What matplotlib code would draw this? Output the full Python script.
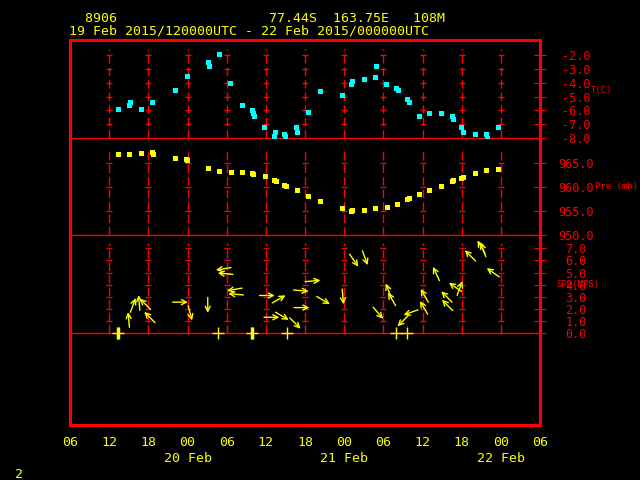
import numpy as np
import matplotlib.pyplot as plt
from matplotlib.transforms import ScaledTranslation

# ---------- data (hours since 19 Feb 00 UTC) ----------
t_hours = [13.4, 15.0, 15.2, 16.8, 18.6, 22.1, 23.9, 27.1, 27.3, 28.8, 30.5, 32.3,
           33.9, 34.0, 34.2, 35.7, 37.3, 37.4, 38.8, 39.0, 40.6, 40.8, 42.4, 44.3,
           47.6, 49.0, 49.2, 51.0, 52.7, 52.9, 54.4, 56.0, 56.2, 57.7, 57.9, 59.5,
           61.0, 62.8, 64.5, 64.7, 65.9, 66.25, 68.0, 69.7, 69.9, 71.6]
t_vals = [-5.9, -5.6, -5.4, -5.9, -5.4, -4.5, -3.5, -2.5, -2.8, -1.9, -4.0, -5.6,
          -6.0, -6.2, -6.4, -7.2, -7.85, -7.6, -7.7, -7.85, -7.2, -7.6, -6.1, -4.6,
          -4.9, -4.1, -3.85, -3.7, -3.55, -2.8, -4.1, -4.35, -4.5, -5.15, -5.4, -6.4,
          -6.2, -6.2, -6.4, -6.6, -7.2, -7.6, -7.7, -7.7, -7.98, -7.2]

p_hours = [13.4, 15.1, 16.8, 18.6, 18.7, 22.1, 23.8, 23.9, 27.2, 28.8, 30.6, 32.3,
           33.9, 34.1, 35.8, 37.3, 37.5, 38.8, 39.1, 40.7, 42.4, 44.3, 47.6, 49.0,
           49.2, 51.0, 52.8, 54.5, 56.1, 57.7, 57.9, 59.5, 61.0, 62.8, 64.5, 64.7,
           65.9, 66.25, 68.0, 69.8, 71.6]
p_vals = [966.9, 966.9, 967.1, 967.2, 966.9, 966.0, 965.9, 965.6, 964.0, 963.3, 963.1, 963.1,
          962.9, 962.7, 962.3, 961.5, 961.25, 960.4, 960.2, 959.4, 958.1, 957.1, 955.6, 955.1,
          955.2, 955.2, 955.6, 955.8, 956.5, 957.5, 957.8, 958.5, 959.4, 960.2, 961.25, 961.5,
          961.9, 962.1, 962.9, 963.5, 963.75]

# wind: speed (m/s) and direction the wind blows from (deg)
w_hours = [15.0, 15.65, 16.6, 17.5, 18.2, 22.9, 24.4, 27.1, 29.5, 29.8, 31.2, 31.4,
           36.2, 38.0, 36.9, 38.5, 40.5, 41.4, 41.5, 43.2, 44.8, 47.8, 49.5, 51.2,
           53.2, 54.8, 55.3, 57.0, 58.2, 60.3, 60.2, 62.1, 63.7, 63.8, 65.0, 65.7,
           67.3, 69.0, 69.3, 70.8]
w_spd = [1.1, 2.3, 2.5, 2.4, 1.3, 2.55, 1.65, 2.3, 5.3, 4.9, 3.6, 3.2,
         3.1, 2.8, 1.3, 1.4, 0.8, 3.5, 2.1, 4.3, 2.7, 3.0, 6.0, 6.2,
         1.65, 3.5, 2.8, 1.0, 1.7, 3.1, 2.1, 4.9, 3.0, 2.3, 3.8, 3.7,
         6.4, 7.1, 6.9, 5.0]
w_dir = [175, 200, 175, 135, 135, 270, 345, 0, 80, 95, 80, 95,
         270, 240, 270, 300, 315, 275, 270, 265, 300, 355, 325, 340,
         320, 160, 150, 45, 70, 150, 150, 155, 135, 135, 125, 200,
         135, 150, 160, 125]

calm_hours = [13.35, 28.7, 33.9, 39.2, 55.9, 57.6]
calm_heavy = [13.35, 33.9]

x_ticks = list(range(6, 79, 6))
x_labels = ['06', '12', '18', '00', '06', '12', '18', '00', '06', '12', '18', '00', '06']
day_hours = [24, 48, 72]
day_labels = ['20 Feb', '21 Feb', '22 Feb']
grid_hours = list(range(12, 73, 6))

t_ticks = [-2.0, -3.0, -4.0, -5.0, -6.0, -7.0, -8.0]
p_ticks = [965.0, 960.0, 955.0, 950.0]
s_ticks = [7.0, 6.0, 5.0, 4.0, 3.0, 2.0, 1.0, 0.0]

RED = '#ff0000'
YEL = '#ffff00'
CYAN = '#00ffff'
MONO = 'DejaVu Sans Mono'
FS = 9.5     # header / time axis
FS_R = 8.5   # right-hand tick labels
FS_N = 6.5   # parameter names
W, H = 640, 480


def box(x0, y0, x1, y1):
    "pixel box (top-left origin) -> figure fraction rect"
    return [x0 / W, 1 - y1 / H, (x1 - x0) / W, (y1 - y0) / H]


fig = plt.figure(figsize=(6.4, 4.8), dpi=100, facecolor='black')

# outer frame + time axis
frame = fig.add_axes(box(70, 40, 540, 425))
frame.set_facecolor('black')
frame.set_xlim(6, 78)
frame.set_ylim(0, 1)
for s in frame.spines.values():
    s.set_color(RED)
    s.set_linewidth(2.2)
frame.set_yticks([])
frame.set_xticks(x_ticks, x_labels)
frame.tick_params(axis='x', length=0, pad=8, colors=YEL, labelsize=FS)
for lab in frame.get_xticklabels():
    lab.set_family(MONO)
for h, lab in zip(day_hours, day_labels):
    frame.text(h, -0.086, lab, transform=frame.get_xaxis_transform(), color=YEL,
               fontsize=FS, family=MONO, ha='center', va='center')


def panel(y0, y1, lo, hi, ticks, base, top_gap):
    ax = fig.add_axes(box(70, y0, 540, y1))
    ax.patch.set_alpha(0)
    ax.set_xlim(6, 78)
    ax.set_ylim(lo, hi)
    for s in ax.spines.values():
        s.set_visible(False)
    ax.set_xticks([])
    ax.yaxis.tick_right()
    ax.set_yticks(ticks, ['%.1f' % v for v in ticks])
    # labels centred about 36 px right of the frame
    ax.tick_params(axis='y', direction='inout', length=8, width=0.8, colors=RED,
                   labelsize=FS_R, pad=21.9)
    for lab in ax.get_yticklabels():
        lab.set_family(MONO)
        lab.set_ha('center')
    ymax = 1 - top_gap / (y1 - y0)
    for xg in grid_hours:
        ax.axvline(xg, 0, ymax, color=RED, lw=1.0, ls=(0, (6, 3)))
    inner = [v for v in ticks if v != base]
    gx, gy = np.meshgrid(grid_hours, inner)
    ax.plot(gx.ravel(), gy.ravel(), '_', ms=5, mew=1.0, color=RED)
    ax.axhline(base, color=RED, lw=1.0, clip_on=False)
    return ax


ax_t = panel(40, 138, -8.0, -8.0 + 98 / 13.8, t_ticks, -8.0, 9)
ax_p = panel(138, 235, 950.0, 950.0 + 97 / 4.8, p_ticks, 950.0, 11)
ax_s = panel(235, 333, 0.0, 98 / 12.1, s_ticks, 0.0, 8)

ax_t.plot(t_hours, t_vals, 's', ms=3.6, mew=0, color=CYAN)
ax_p.plot(p_hours, p_vals, 's', ms=3.6, mew=0, color=YEL)

# wind arrows, fixed length, centred on (time, speed)
L = 11  # points
for h, spd, d in zip(w_hours, w_spd, w_dir):
    ux, uy = -np.sin(np.radians(d)), -np.cos(np.radians(d))
    tr = ax_s.transData + ScaledTranslation(ux * L / 144, uy * L / 144, fig.dpi_scale_trans)
    ax_s.annotate('', xy=(h, spd), xycoords=tr, xytext=(-ux * L, -uy * L),
                  textcoords='offset points', annotation_clip=False,
                  arrowprops=dict(arrowstyle='->', color=YEL, lw=1.0,
                                  shrinkA=0, shrinkB=0, mutation_scale=9))
ax_s.plot(calm_hours, [0] * len(calm_hours), '+', ms=9, mew=1, color=YEL, clip_on=False)
ax_s.plot(calm_heavy, [0] * len(calm_heavy), '|', ms=9, mew=2.5, color=YEL, clip_on=False)

# parameter names
fig.text(591 / W, 1 - 90 / H, 'T(C)', color=RED, fontsize=FS_N, family=MONO, va='center')
fig.text(595 / W, 1 - 186 / H, 'Pre (mb)', color=RED, fontsize=FS_N, family=MONO, va='center')
fig.text(556 / W, 1 - 284 / H, 'SPD(MPS)', color=RED, fontsize=FS_N, family=MONO, va='center')

# header
fig.text(69 / W, 1 - 18 / H, '  8906                   77.44S  163.75E   108M',
         color=YEL, fontsize=FS, family=MONO, va='center')
fig.text(69 / W, 1 - 31 / H, '19 Feb 2015/120000UTC - 22 Feb 2015/000000UTC',
         color=YEL, fontsize=FS, family=MONO, va='center')
fig.text(15 / W, 1 - 474 / H, '2', color=YEL, fontsize=FS, family=MONO, va='center')

fig.savefig('out.png', dpi=100, facecolor='black')
